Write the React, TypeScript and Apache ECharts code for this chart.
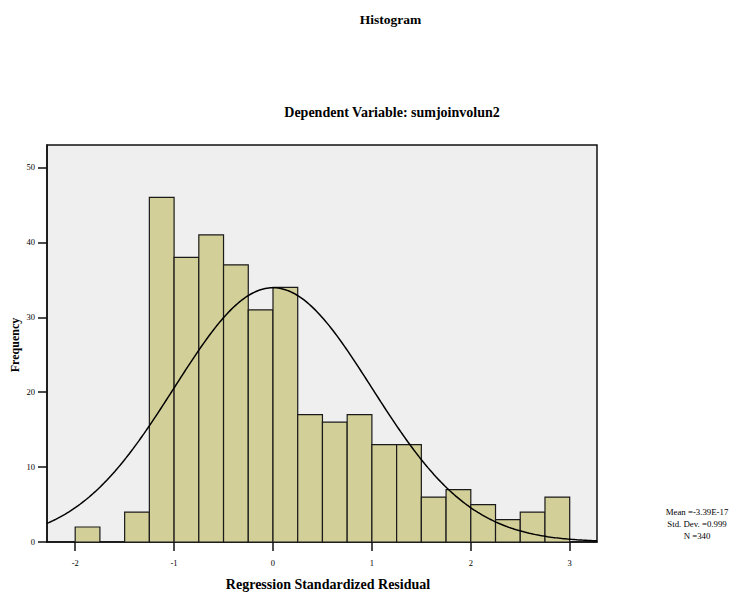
import React, { useEffect, useRef } from "react";
import * as echarts from "echarts";

// Histogram bins (lower/upper edges) and frequencies
const binStarts = [-2.0, -1.75, -1.5, -1.25, -1.0, -0.75, -0.5, -0.25, 0.0, 0.25, 0.5, 0.75, 1.0, 1.25, 1.5, 1.75, 2.0, 2.25, 2.5, 2.75];
const binEnds = [-1.75, -1.5, -1.25, -1.0, -0.75, -0.5, -0.25, 0.0, 0.25, 0.5, 0.75, 1.0, 1.25, 1.5, 1.75, 2.0, 2.25, 2.5, 2.75, 3.0];
const counts = [2, 0, 4, 46, 38, 41, 37, 31, 34, 17, 16, 17, 13, 13, 6, 7, 5, 3, 4, 6];

const xTicks = [-2, -1, 0, 1, 2, 3];
const yTicks = [0, 10, 20, 30, 40, 50];

// Reported statistics (normal curve is drawn from these)
const statMean = -3.39e-17;
const statStd = 0.999;
const statN = 340;
const binWidth = 0.25;
const statLines = ["Mean =-3.39E-17", "Std. Dev. =0.999", "N =340"];

const X_MIN = -2.285;
const X_MAX = 3.276;
const Y_MAX = 53;

const FONT = "'Liberation Serif', 'Times New Roman', serif";

function normalCurve(): number[][] {
  const pts: number[][] = [];
  const steps = 300;
  for (let i = 0; i <= steps; i++) {
    const x = X_MIN + ((X_MAX - X_MIN) * i) / steps;
    const z = (x - statMean) / statStd;
    const y = (statN * binWidth) / (statStd * Math.sqrt(2 * Math.PI)) * Math.exp(-0.5 * z * z);
    pts.push([x, y]);
  }
  return pts;
}

function centeredText(text: string, x: number, y: number, fontSize: number, bold: boolean, extra: any = {}) {
  return {
    type: "text",
    x,
    y,
    ...extra,
    style: {
      text,
      fontSize,
      fontWeight: bold ? "bold" : "normal",
      fontFamily: FONT,
      fill: "#000",
      align: "center",
      verticalAlign: "middle",
      textAlign: "center",
      textVerticalAlign: "middle",
    },
  };
}

export default function App() {
  const ref = useRef<HTMLDivElement>(null);
  useEffect(() => {
    if (!ref.current) return;
    const chart = echarts.init(ref.current, undefined, { renderer: "svg" });
    const barData = binStarts.map((s, i) => [s, binEnds[i], counts[i]]);
    const option: any = {
      animation: false,
      backgroundColor: "#ffffff",
      grid: {
        left: 47,
        right: 136,
        top: 145,
        bottom: 55,
        show: true,
        backgroundColor: "#efefef",
        borderColor: "#111111",
        borderWidth: 1.5,
      },
      xAxis: {
        type: "value",
        position: "bottom",
        min: X_MIN,
        max: X_MAX,
        axisLine: { show: true, onZero: false, lineStyle: { color: "#111111", width: 1.5 } },
        splitLine: { show: false },
        axisTick: {
          show: true,
          inside: false,
          length: 9,
          customValues: xTicks,
          lineStyle: { color: "#111111", width: 1.5 },
        },
        axisLabel: {
          customValues: xTicks,
          margin: 16,
          color: "#000",
          fontSize: 8.5,
          fontFamily: FONT,
        },
      },
      yAxis: {
        type: "value",
        position: "left",
        min: 0,
        max: Y_MAX,
        axisLine: { show: true, onZero: false, lineStyle: { color: "#111111", width: 1.5 } },
        splitLine: { show: false },
        axisTick: {
          show: true,
          inside: false,
          length: 9,
          customValues: yTicks,
          lineStyle: { color: "#111111", width: 1.5 },
        },
        axisLabel: {
          customValues: yTicks,
          margin: 12,
          color: "#000",
          fontSize: 8.5,
          fontFamily: FONT,
        },
      },
      graphic: [
        centeredText("Histogram", 390.5, 19, 13.5, true),
        centeredText("Dependent Variable: sumjoinvolun2", 392, 112, 14, true),
        centeredText("Regression Standardized Residual", 328, 584, 14, true),
        centeredText("Frequency", 15, 345, 12, true, { rotation: Math.PI / 2 }),
        ...statLines.map((t, i) => centeredText(t, 697, 512 + i * 12, 8.8, false)),
      ],
      series: [
        {
          type: "custom",
          data: barData,
          encode: { x: [0, 1], y: 2 },
          z: 2,
          renderItem: (params: any, api: any) => {
            const v = api.value(2);
            if (!v) return null;
            const p0 = api.coord([api.value(0), v]);
            const p1 = api.coord([api.value(1), 0]);
            return {
              type: "rect",
              shape: { x: p0[0], y: p0[1], width: p1[0] - p0[0], height: p1[1] - p0[1] },
              style: { fill: "#d3cf98", stroke: "#1a1a1a", lineWidth: 1.2 },
            };
          },
        },
        {
          type: "line",
          data: normalCurve(),
          showSymbol: false,
          symbol: "none",
          smooth: false,
          z: 5,
          clip: true,
          lineStyle: { color: "#000", width: 1.5 },
        },
      ],
    };
    chart.setOption(option);
    return () => chart.dispose();
  }, []);
  return (
    <div
      ref={ref}
      style={{ position: "fixed", left: 0, top: 0, width: 733, height: 597, background: "#fff" }}
    />
  );
}
